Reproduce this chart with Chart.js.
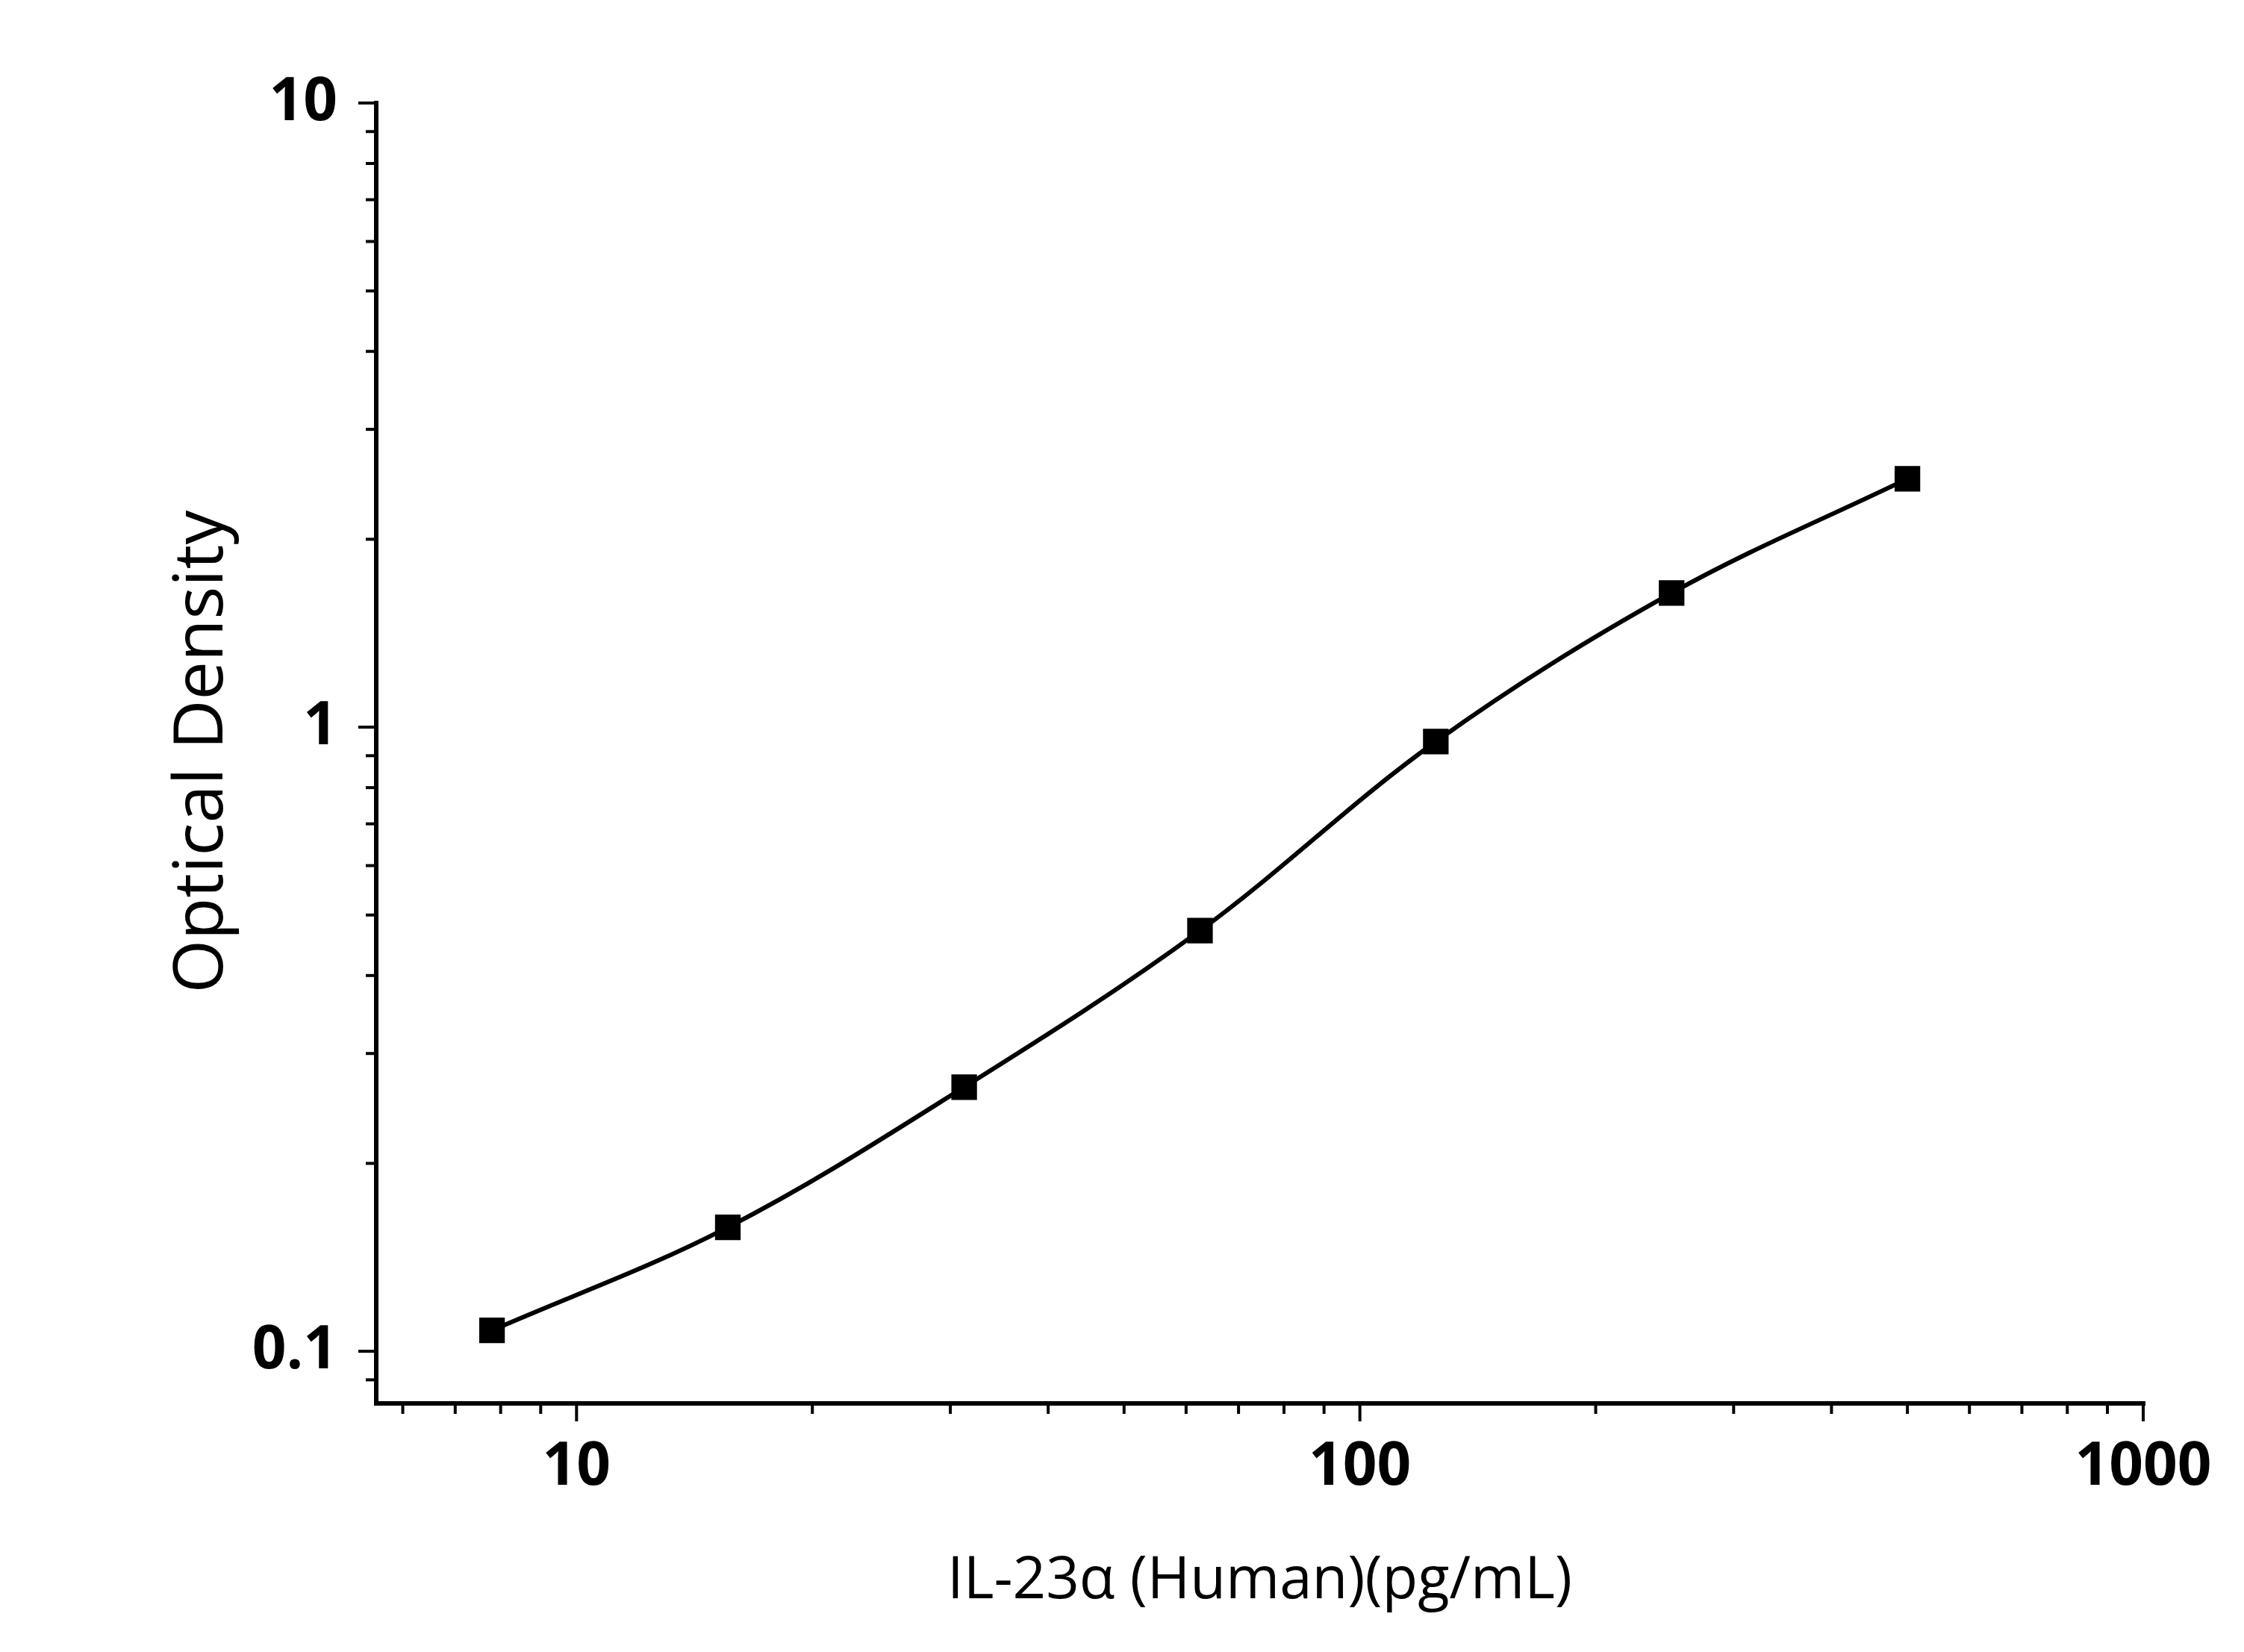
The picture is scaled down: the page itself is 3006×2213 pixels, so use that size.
<!DOCTYPE html>
<html>
<head>
<meta charset="utf-8">
<script src="https://cdn.jsdelivr.net/npm/chart.js@4"></script>
<style>html,body{margin:0;padding:0;background:#fff;}</style>
</head>
<body>
<canvas id="c" width="3006" height="2213"></canvas>
<script>
// standard curve data
const concentrations = [7.8, 15.6, 31.25, 62.5, 125, 250, 500];
const opticalDensity = [0.108, 0.158, 0.265, 0.472, 0.948, 1.64, 2.50];
const xTickLabels = [10, 100, 1000];
const yTickLabels = [0.1, 1, 10];

const FONT = '"Open Sans", "DejaVu Sans", sans-serif';
const labelOffset = 52;

// draws axes, ticks and titles by hand so they match the original look
const axesPlugin = {
    id: 'axesPlugin',
    afterDraw(chart) {
        const ctx = chart.ctx;
        const area = chart.chartArea;
        const xs = chart.scales.x;
        const ys = chart.scales.y;
        ctx.save();
        ctx.strokeStyle = '#000';
        ctx.fillStyle = '#000';
        ctx.lineWidth = 6;
        ctx.beginPath();
        ctx.moveTo(area.left, area.top - 3);
        ctx.lineTo(area.left, area.bottom);
        ctx.lineTo(area.right + 3, area.bottom);
        ctx.stroke();

        ctx.lineWidth = 4;
        for (let p = 0; p <= 3; p++) {
            for (let m = 1; m <= 9; m++) {
                const val = m * Math.pow(10, p);
                if (val < xs.min || val > xs.max) continue;
                const px = xs.getPixelForValue(val);
                const len = m === 1 ? 24 : 14;
                ctx.beginPath();
                ctx.moveTo(px, area.bottom);
                ctx.lineTo(px, area.bottom + len);
                ctx.stroke();
            }
        }
        for (let p = -2; p <= 1; p++) {
            for (let m = 1; m <= 9; m++) {
                const val = m * Math.pow(10, p);
                if (val < ys.min || val > ys.max * 1.0001) continue;
                const py = ys.getPixelForValue(val);
                const len = m === 1 ? 24 : 14;
                ctx.beginPath();
                ctx.moveTo(area.left, py);
                ctx.lineTo(area.left - len, py);
                ctx.stroke();
            }
        }

        ctx.font = 'bold 80px ' + FONT;
        ctx.textAlign = 'center';
        ctx.textBaseline = 'middle';
        xTickLabels.forEach(v => {
            ctx.fillText(String(v), xs.getPixelForValue(v), area.bottom + 86);
        });
        ctx.textAlign = 'right';
        yTickLabels.forEach(v => {
            ctx.fillText(String(v), area.left - labelOffset, ys.getPixelForValue(v));
        });

        ctx.font = '78px ' + FONT;
        ctx.textAlign = 'center';
        ctx.fillText('IL-23α (Human)(pg/mL)', (area.left + area.right) / 2, 2119);
        ctx.font = '92px ' + FONT;
        ctx.translate(272, 1007);
        ctx.rotate(-Math.PI / 2);
        ctx.fillText('Optical Density', 0, 0);
        ctx.restore();
    }
};

new Chart(document.getElementById('c'), {
    type: 'line',
    data: {
        datasets: [{
            data: concentrations.map((x, i) => ({ x: x, y: opticalDensity[i] })),
            borderColor: '#000',
            backgroundColor: '#000',
            borderWidth: 6,
            pointStyle: 'rect',
            pointRadius: 20,
            tension: 0.35,
            fill: false
        }]
    },
    options: {
        responsive: false,
        devicePixelRatio: 1,
        animation: false,
        layout: { padding: { left: 504, top: 138, right: 135, bottom: 333 } },
        plugins: { legend: { display: false }, tooltip: { enabled: false } },
        scales: {
            x: { type: 'logarithmic', min: 5.55, max: 1000, display: false },
            y: { type: 'logarithmic', min: 0.0825, max: 10, display: false }
        }
    },
    plugins: [axesPlugin]
});
</script>
</body>
</html>
